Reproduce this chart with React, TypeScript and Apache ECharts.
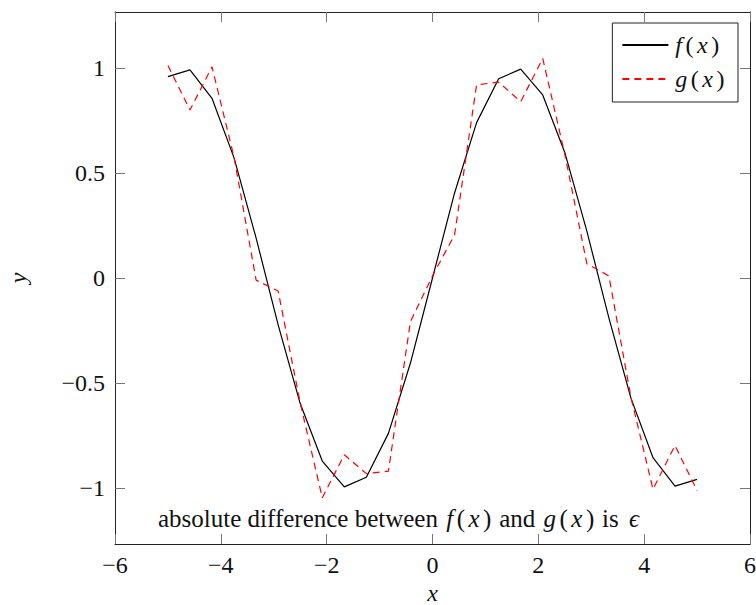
import React, { useEffect, useRef } from "react";
import * as echarts from "echarts";

const xValues = [
  -5, -4.583, -4.167, -3.75, -3.333, -2.917, -2.5, -2.083, -1.667, -1.25, -0.833, -0.417, 0,
  0.417, 0.833, 1.25, 1.667, 2.083, 2.5, 2.917, 3.333, 3.75, 4.167, 4.583, 5,
];
const fValues = [
  0.959, 0.991, 0.856, 0.572, 0.19, -0.223, -0.598, -0.872, -0.995, -0.949, -0.74, -0.405, 0,
  0.405, 0.74, 0.949, 0.995, 0.872, 0.598, 0.223, -0.19, -0.572, -0.856, -0.991, -0.959,
];
const gValues = [
  1.012, 0.8, 1.006, 0.575, -0.01, -0.062, -0.595, -1.047, -0.842, -0.932, -0.92, -0.208, 0.01,
  0.205, 0.92, 0.933, 0.84, 1.046, 0.59, 0.068, 0.01, -0.568, -1.006, -0.798, -1.013,
];
const xTicks = [-6, -4, -2, 0, 2, 4, 6];
const yTicks = [-1, -0.5, 0, 0.5, 1];

const FONT = "'Liberation Serif', 'DejaVu Serif', serif";
const fmt = (v: number) => String(v).replace("-", "\u2212");

const makeRich = (size: number) => ({
  i: { fontFamily: FONT, fontStyle: "italic", fontSize: size, color: "#111", padding: [0, 1.5, 0, 2] },
  p: { fontFamily: FONT, fontSize: size, color: "#111", padding: [0, 1.5, 0, 2] },
  n: { fontFamily: FONT, fontSize: size, color: "#111" },
  s: { fontFamily: FONT, fontStyle: "italic", fontSize: size, color: "#111", padding: [0, 0, 0, 4] },
});

export default function App() {
  const ref = useRef<HTMLDivElement>(null);
  useEffect(() => {
    if (!ref.current) return;
    const chart = echarts.init(ref.current, undefined, { renderer: "svg" });
    const axisLine = { show: true, onZero: false, lineStyle: { color: "#222", width: 1 } };
    const tick = { show: true, inside: true, length: 10, lineStyle: { color: "#777", width: 1 } };
    const labelStyle = { fontFamily: FONT, fontSize: 24, color: "#111" };
    chart.setOption({
      animation: false,
      backgroundColor: "#fff",
      grid: { left: 115, right: 6, top: 12, bottom: 61, containLabel: false, outerBoundsMode: "none" },
      xAxis: [
        {
          type: "value",
          min: -6,
          max: 6,
          interval: 2,
          position: "bottom",
          name: "x",
          nameLocation: "middle",
          nameGap: 40,
          nameMoveOverlap: false,
          nameTextStyle: { fontFamily: FONT, fontStyle: "italic", fontSize: 24, lineHeight: 18, color: "#111" },
          axisLine,
          axisTick: { ...tick, customValues: xTicks },
          axisLabel: { ...labelStyle, lineHeight: 22, margin: 10, formatter: fmt, customValues: xTicks },
          splitLine: { show: false },
        },
        {
          type: "value",
          min: -6,
          max: 6,
          interval: 2,
          position: "top",
          axisLine,
          axisTick: { ...tick, customValues: xTicks },
          axisLabel: { show: false },
          splitLine: { show: false },
        },
      ],
      yAxis: [
        {
          type: "value",
          min: -1.267,
          max: 1.267,
          position: "left",
          name: "y",
          nameLocation: "middle",
          nameGap: 85,
          nameMoveOverlap: false,
          nameRotate: 90,
          nameTextStyle: { fontFamily: FONT, fontStyle: "italic", fontSize: 24, color: "#111" },
          axisLine,
          axisTick: { ...tick, customValues: yTicks },
          axisLabel: { ...labelStyle, margin: 10, formatter: fmt, customValues: yTicks },
          splitLine: { show: false },
        },
        {
          type: "value",
          min: -1.267,
          max: 1.267,
          position: "right",
          axisLine,
          axisTick: { ...tick, customValues: yTicks },
          axisLabel: { show: false },
          splitLine: { show: false },
        },
      ],
      legend: {
        orient: "vertical",
        right: 18,
        top: 23,
        backgroundColor: "#fff",
        borderColor: "#222",
        borderWidth: 1,
        borderRadius: 0,
        padding: [9, 12, 10, 9],
        itemGap: 8,
        itemWidth: 46,
        itemHeight: 26,
        selectedMode: false,
        itemStyle: { opacity: 0 },
        formatter: (name: string) => `{i|${name[0]}}{p|(}{i|x}{p|)}`,
        textStyle: { fontFamily: FONT, fontSize: 24, lineHeight: 26, color: "#111", rich: makeRich(24) },
      },
      graphic: [
        {
          type: "text",
          left: 158,
          top: 506,
          style: {
            text: "{n|absolute difference between }{i|f}{p|(}{i|x}{p|)}{n| and }{i|g}{p|(}{i|x}{p|)}{n| is }{s|\u03f5}",
            rich: makeRich(25),
            fill: "#111",
          },
        },
      ],
      series: [
        {
          name: "f(x)",
          type: "line",
          data: xValues.map((x, i) => [x, fValues[i]]),
          symbol: "none",
          lineStyle: { color: "#000", width: 1.2 },
          itemStyle: { color: "#000" },
        },
        {
          name: "g(x)",
          type: "line",
          data: xValues.map((x, i) => [x, gValues[i]]),
          symbol: "none",
          lineStyle: { color: "#ff0000", width: 1.2, type: [7, 5] },
          itemStyle: { color: "#ff0000" },
        },
      ],
    });
    return () => chart.dispose();
  }, []);
  return (
    <div
      ref={ref}
      style={{ position: "fixed", left: 0, top: 0, width: 756, height: 605, background: "#fff" }}
    />
  );
}
